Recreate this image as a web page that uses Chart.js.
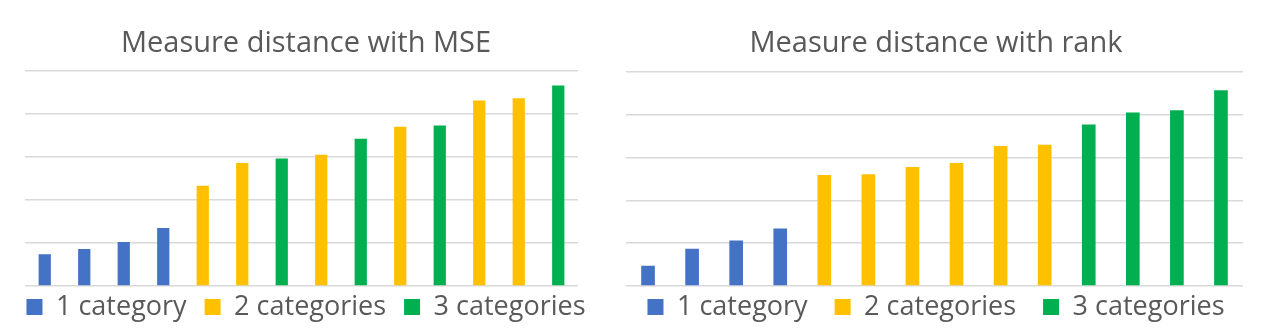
<!DOCTYPE html>
<html>
<head>
<meta charset="utf-8">
<script src="https://cdn.jsdelivr.net/npm/chart.js@4/dist/chart.umd.min.js"></script>
<style>
  body { margin: 0; background: #fff; overflow: hidden; }
  canvas { position: absolute; top: 0; }
  #left { left: -34px; }
  #right { left: 606px; }
</style>
</head>
<body>
<canvas id="left" width="680" height="333"></canvas>
<canvas id="right" width="660" height="333"></canvas>
<script>
// 14 runs, sorted by distance; x labels are not shown in the picture
const categories = ['1', '2', '3', '4', '5', '6', '7', '8', '9', '10', '11', '12', '13', '14'];
const seriesNames = ['1 category', '2 categories', '3 categories'];

const mseValues = [0.74, 0.86, 1.02, 1.35, 2.33, 2.86, 2.96, 3.05, 3.42, 3.70, 3.73, 4.31, 4.36, 4.66];
const mseGroups = [1, 1, 1, 1, 2, 2, 3, 2, 3, 2, 3, 2, 2, 3];

const rankValues = [0.47, 0.87, 1.06, 1.34, 2.59, 2.61, 2.78, 2.87, 3.27, 3.30, 3.77, 4.05, 4.10, 4.57];
const rankGroups = [1, 1, 1, 1, 2, 2, 2, 2, 2, 2, 3, 3, 3, 3];

const yTicks = [0, 1, 2, 3, 4, 5];

const colors = ['#4472C4', '#FFC000', '#00B050'];
const textColor = '#595959';

Chart.defaults.font.family = '"Open Sans", "Noto Sans", sans-serif';
Chart.defaults.color = textColor;

// pull the legend up under the axis, legend padding is only used for item spacing
const legendGapPlugin = {
  id: 'legendGap',
  afterLayout(chart) {
    const legend = chart.legend;
    legend.top = chart.chartArea.bottom + 7.5 - legend.options.labels.padding;
  }
};

function buildDatasets(values, groups) {
  return seriesNames.map(function(name, g) {
    return {
      label: name,
      data: values.map(function(v, i) { return groups[i] === g + 1 ? v : null; }),
      backgroundColor: colors[g],
      borderWidth: 0,
      grouped: false,
      categoryPercentage: 1,
      barPercentage: 0.31
    };
  });
}

function makeChart(id, title, values, groups, side, itemGap) {
  return new Chart(document.getElementById(id), {
    type: 'bar',
    data: {
      labels: categories,
      datasets: buildDatasets(values, groups)
    },
    options: {
      responsive: false,
      animation: false,
      layout: { padding: { left: 0, right: 0, top: 0, bottom: 7 } },
      plugins: {
        title: {
          display: true,
          text: title,
          color: textColor,
          font: { size: 29, weight: 'normal' },
          padding: { top: 26, bottom: side.titleBottom }
        },
        legend: {
          position: 'bottom',
          maxHeight: 40,
          labels: {
            boxWidth: 16,
            boxHeight: 16,
            padding: itemGap,
            color: textColor,
            font: { size: 27 }
          }
        },
        tooltip: { enabled: false }
      },
      scales: {
        x: { display: false },
        y: {
          min: yTicks[0],
          max: yTicks[yTicks.length - 1],
          afterBuildTicks: function(axis) {
            axis.ticks = yTicks.map(function(v) { return { value: v }; });
          },
          afterFit: function(axis) { axis.width = side.left; },
          ticks: { display: false },
          border: { display: false },
          grid: { color: '#D9D9D9', lineWidth: 1.5, drawTicks: false }
        },
        // empty axis on the right, only keeps the plot away from the canvas edge
        yRight: {
          position: 'right',
          min: 0,
          max: 1,
          afterFit: function(axis) { axis.width = side.right; },
          ticks: { display: false },
          border: { display: false },
          grid: { display: false, drawTicks: false }
        }
      }
    },
    plugins: [legendGapPlugin]
  });
}

makeChart('left', 'Measure distance with MSE', mseValues, mseGroups,
  { left: 59, right: 68, titleBottom: 10 }, 18);
makeChart('right', 'Measure distance with rank', rankValues, rankGroups,
  { left: 20, right: 23, titleBottom: 11 }, 27);
</script>
</body>
</html>
